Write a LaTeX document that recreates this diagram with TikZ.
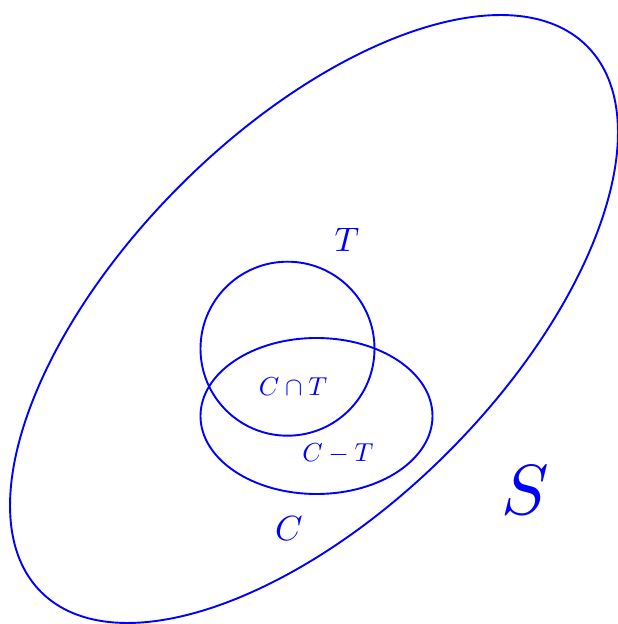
\documentclass[tikz,border=0pt]{standalone}
\begin{document}
\begin{tikzpicture}[x=1pt,y=1pt,
  setline/.style={draw=blue,line width=1.9pt},
  lbl/.style={text=blue,inner sep=0pt,anchor=center}]
\useasboundingbox (0,0) rectangle (618,624);
% big set S
\draw[setline,rotate around={45:(314,305)}] (314,305) ellipse [x radius=386, y radius=189];
% T circle
\draw[setline] (287.5,275.3) circle [radius=87];
% C ellipse
\draw[setline] (316.5,208) ellipse [x radius=116, y radius=78];
% labels
\node[lbl,scale=3.4] (T) at (347,384) {$T$};
\node[lbl,scale=2.6] (CT) at (293,237.5) {$C\cap T$};
\node[lbl,scale=2.6] (CmT) at (338,170.5) {$C-T$};
\node[lbl,scale=3.5] (C) at (289,95) {$C$};
\node[lbl,scale=7.1] (S) at (525,134) {$S$};
\end{tikzpicture}
\end{document}
